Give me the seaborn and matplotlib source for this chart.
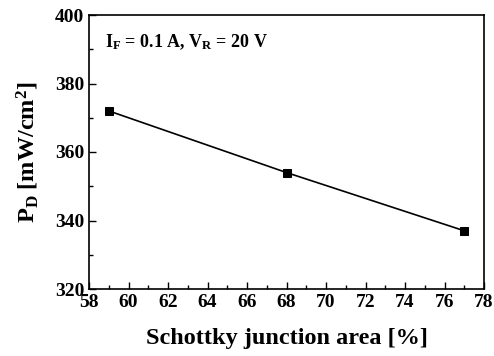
import matplotlib
matplotlib.use("Agg")
import matplotlib.pyplot as plt
import seaborn as sns
import pandas as pd
from matplotlib.ticker import MultipleLocator

area = [59, 68, 77]
pd_vals = [372, 354, 337]
df = pd.DataFrame({"area": area, "pd": pd_vals})

sns.set_theme(style="ticks")
plt.rcParams['font.family'] = ['Liberation Serif', 'DejaVu Serif']
plt.rcParams['font.weight'] = 'bold'
plt.rcParams['text.color'] = 'black'
plt.rcParams['axes.labelcolor'] = 'black'
plt.rcParams['xtick.color'] = 'black'
plt.rcParams['ytick.color'] = 'black'
plt.rcParams['mathtext.fontset'] = 'custom'
plt.rcParams['mathtext.rm'] = 'Liberation Serif:bold'
plt.rcParams['mathtext.bf'] = 'Liberation Serif:bold'
plt.rcParams['mathtext.it'] = 'Liberation Serif:bold'

fig = plt.figure(figsize=(4.94, 3.56), dpi=100)
ax = fig.add_axes([89/494, 1-289/356, (484-89)/494, (289-15)/356])
sns.lineplot(data=df, x="area", y="pd", ax=ax, color="black", lw=1.2,
             marker="s", markersize=6, markeredgecolor="black")
ax.set_xlim(58, 78)
ax.set_ylim(320, 400)
ax.xaxis.set_major_locator(MultipleLocator(2))
ax.xaxis.set_minor_locator(MultipleLocator(1))
ax.yaxis.set_major_locator(MultipleLocator(20))
ax.yaxis.set_minor_locator(MultipleLocator(10))
ax.tick_params(which="both", direction="in", labelsize=14, width=1)
ax.tick_params(which="major", length=5)
ax.tick_params(which="minor", length=3)
for s in ax.spines.values():
    s.set_linewidth(1.2)
    s.set_color("black")
for lab in ax.get_xticklabels() + ax.get_yticklabels():
    lab.set_fontweight("bold")
ax.set_xlabel("Schottky junction area [%]", fontsize=17.5, fontweight="bold", labelpad=12)
ax.set_ylabel(r"P$_\mathrm{D}$ [mW/cm$^\mathrm{2}$]", fontsize=17.5, fontweight="bold", labelpad=10)
ax.text(0.04, 0.9, r"I$_\mathrm{F}$ = 0.1 A, V$_\mathrm{R}$ = 20 V", transform=ax.transAxes,
        fontsize=13, fontweight="bold", va="center")
fig.savefig("out.png", dpi=100)
